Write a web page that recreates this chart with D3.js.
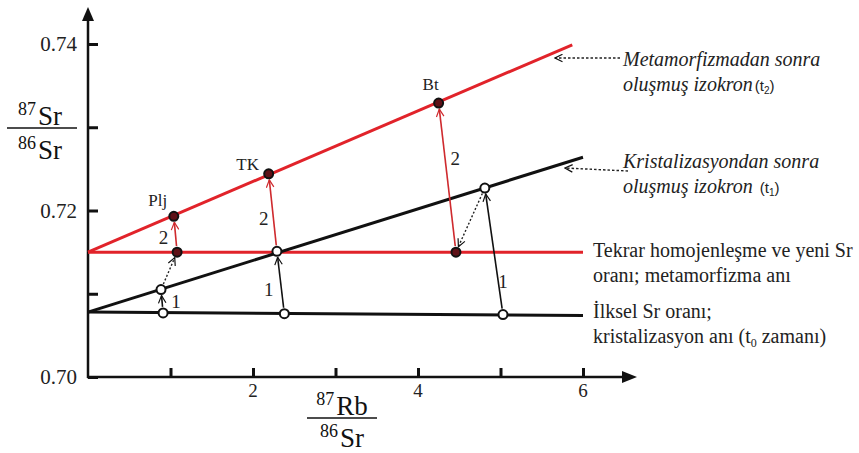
<!DOCTYPE html>
<html><head><meta charset="utf-8">
<script src="https://cdn.jsdelivr.net/npm/d3@7"></script>
</head><body style="margin:0">
<script>
// ---- data ----
const yTicks = [0.70, 0.71, 0.72, 0.73, 0.74];
const yTickLabels = ["0.70", "", "0.72", "", "0.74"];
const xTicks = [1, 2, 3, 4, 5, 6];
const xTickLabels = ["", "2", "", "4", "", "6"];

const initialLine = [[0, 0.7078], [6, 0.7074]];
const isochronT1 = [[0, 0.7078], [6, 0.7264]];
const homogenLine = [[0, 0.7150], [6, 0.7150]];
const isochronT2 = [[0, 0.7150], [5.87, 0.7399]];

const minerals = ["Plj", "TK", "Bt"];
const initialRb = [0.91, 2.38, 5.03];
const initialSr = [0.7077, 0.7076, 0.7075];
const t1Rb = [0.885, 2.29, 4.81];
const t1Sr = [0.7105, 0.7151, 0.7227];
const homRb = [1.08, 2.29, 4.46];
const homSr = [0.7150, 0.7151, 0.7150];
const t2Rb = [1.04, 2.19, 4.25];
const t2Sr = [0.7193, 0.7244, 0.7329];
const stage1Labels = ["1", "1", "1"];
const stage2Labels = ["2", "2", "2"];

const annT2 = ["Metamorfizmadan sonra", "oluşmuş izokron"];
const annT1 = ["Kristalizasyondan sonra", "oluşmuş izokron "];
const annHom = ["Tekrar homojenleşme ve yeni Sr", "oranı; metamorfizma anı"];
const annInit = ["İlksel Sr oranı;", "kristalizasyon anı (t"];

// ---- drawing ----
const RED = "#e1232a", RED2 = "#cf2a2e", DARK = "#5e1016";
const SERIF = '"Liberation Serif"', SANS = '"Liberation Sans"';
const svg = d3.select("body").append("svg").attr("width", 859).attr("height", 453);
const x = d3.scaleLinear().domain([0, 6]).range([88, 583]);
const y = d3.scaleLinear().domain([0.70, 0.74]).range([377, 44]);

function label(px, py, size, str, o = {}) {
  const t = svg.append("text").attr("x", px).attr("y", py)
    .style("font-family", o.family || SERIF).style("font-size", size + "px");
  if (o.italic) t.style("font-style", "italic");
  if (o.anchor) t.attr("text-anchor", o.anchor);
  if (o.dy) t.attr("dy", o.dy);
  t.attr("fill", o.fill || "#222");
  if (str != null) t.text(str);
  return t;
}
function span(t, size, str, o = {}) {
  const s = t.append("tspan").style("font-size", size + "px").text(str);
  if (o.dy) s.attr("dy", o.dy);
  if (o.dx) s.attr("dx", o.dx);
  if (o.family) s.style("font-family", o.family);
  if (o.normal) s.style("font-style", "normal");
  return s;
}
const FS = 20, FSI = 20, FT = 20;

const defs = svg.append("defs");
function vMarker(id, color) {
  defs.append("marker").attr("id", id).attr("viewBox", "0 -6 12 12")
    .attr("refX", 11).attr("refY", 0).attr("markerUnits", "userSpaceOnUse")
    .attr("markerWidth", 9).attr("markerHeight", 9).attr("orient", "auto")
    .append("path").attr("d", "M1,-5L11,0L1,5").attr("fill", "none")
    .attr("stroke", color).attr("stroke-width", 1.6);
}
vMarker("vb", "#111"); vMarker("vr", RED2);

// axes
const yAx = svg.append("g").attr("transform", "translate(88,0)")
  .call(d3.axisRight(y).tickValues(yTicks).tickSize(10).tickFormat(""));
const xAx = svg.append("g").attr("transform", "translate(0,377)")
  .call(d3.axisTop(x).tickValues(xTicks).tickSize(9).tickFormat(""));
[yAx, xAx].forEach(g => {
  g.select(".domain").remove();
  g.selectAll(".tick line").attr("stroke", "#111").attr("stroke-width", 3);
});
svg.append("line").attr("x1", 88).attr("y1", 378).attr("x2", 88).attr("y2", 18)
  .attr("stroke", "#111").attr("stroke-width", 2.5);
svg.append("line").attr("x1", 87).attr("y1", 377).attr("x2", 626).attr("y2", 377)
  .attr("stroke", "#111").attr("stroke-width", 2.5);
svg.append("path").attr("d", "M88,7L94,21L82,21Z").attr("fill", "#111");
svg.append("path").attr("d", "M637,377L622,371L622,383Z").attr("fill", "#111");

yTicks.forEach((d, i) => {
  if (yTickLabels[i]) label(77, y(d) + 7, 21, yTickLabels[i], { anchor: "end" });
});
xTicks.forEach((d, i) => {
  if (xTickLabels[i]) label(x(d), 397, 19, xTickLabels[i], { anchor: "middle" });
});

// axis titles (fractions)
function fraction(cx, lineY, x0, x1, top, bottom, botY) {
  svg.append("line").attr("x1", x0).attr("x2", x1).attr("y1", lineY).attr("y2", lineY)
    .attr("stroke", "#111").attr("stroke-width", 1.6);
  [[top, lineY - 3], [bottom, botY]].forEach(([t, by]) => {
    const tx = label(cx, by, 20, null, { anchor: "middle", fill: "#111" });
    span(tx, 18, t[0], { dy: -10 });
    span(tx, 27, t[1], { dy: 10, dx: 2 });
  });
}
fraction(40, 128, 7, 77, ["87", "Sr"], ["86", "Sr"], 159);
fraction(342, 418, 307, 377, ["87", "Rb"], ["86", "Sr"], 447);

// lines
const line = d3.line().x(d => x(d[0])).y(d => y(d[1]));
svg.append("path").attr("d", line(initialLine)).attr("stroke", "#111").attr("stroke-width", 3).attr("fill", "none");
svg.append("path").attr("d", line(homogenLine)).attr("stroke", RED).attr("stroke-width", 3).attr("fill", "none");
svg.append("path").attr("d", line(isochronT1)).attr("stroke", "#111").attr("stroke-width", 3).attr("fill", "none");
svg.append("path").attr("d", line(isochronT2)).attr("stroke", RED).attr("stroke-width", 3).attr("fill", "none");

// arrows
const R = 4.5;
function arrow(x1, y1, x2, y2, color, marker, dash, w) {
  const dx = x2 - x1, dy = y2 - y1, L = Math.hypot(dx, dy);
  const s = R + 1.5;
  svg.append("line")
    .attr("x1", x1 + dx / L * s).attr("y1", y1 + dy / L * s)
    .attr("x2", x2 - dx / L * s).attr("y2", y2 - dy / L * s)
    .attr("stroke", color).attr("stroke-width", w)
    .attr("stroke-dasharray", dash).attr("marker-end", `url(#${marker})`);
}
minerals.forEach((m, i) => {
  arrow(x(initialRb[i]), y(initialSr[i]), x(t1Rb[i]), y(t1Sr[i]), "#111", "vb", null, 1.6);
  arrow(x(homRb[i]), y(homSr[i]), x(t2Rb[i]), y(t2Sr[i]), RED2, "vr", null, 1.6);
  if (Math.abs(t1Rb[i] - homRb[i]) > 0.05)
    arrow(x(t1Rb[i]), y(t1Sr[i]), x(homRb[i]), y(homSr[i]), "#222", "vb", "2,2", 1.4);
});

// points
const open = (px, py) => svg.append("circle").attr("cx", px).attr("cy", py).attr("r", R)
  .attr("fill", "#fff").attr("stroke", "#111").attr("stroke-width", 2);
const filled = (px, py) => svg.append("circle").attr("cx", px).attr("cy", py).attr("r", R)
  .attr("fill", DARK).attr("stroke", "#111").attr("stroke-width", 2);
minerals.forEach((m, i) => {
  open(x(initialRb[i]), y(initialSr[i]));
  open(x(t1Rb[i]), y(t1Sr[i]));
  if (Math.abs(t1Rb[i] - homRb[i]) > 0.05) filled(x(homRb[i]), y(homSr[i]));
  filled(x(t2Rb[i]), y(t2Sr[i]));
});

// labels
const off1 = [[14, 0], [-12, 6], [9, 30]];
const off2 = [[-12, 3], [-9, 5], [8, -20]];
const offM = [[-16, -16], [-21, -10], [-8, -19]];
minerals.forEach((m, i) => {
  const mx1 = (x(initialRb[i]) + x(t1Rb[i])) / 2, my1 = (y(initialSr[i]) + y(t1Sr[i])) / 2;
  const mx2 = (x(homRb[i]) + x(t2Rb[i])) / 2, my2 = (y(homSr[i]) + y(t2Sr[i])) / 2;
  label(mx1 + off1[i][0], my1 + off1[i][1] + 7, 19, stage1Labels[i], { anchor: "middle" });
  label(mx2 + off2[i][0], my2 + off2[i][1] + 7, 19, stage2Labels[i], { anchor: "middle" });
  label(x(t2Rb[i]) + offM[i][0], y(t2Sr[i]) + offM[i][1] + 6, 17, m, { anchor: "middle" });
});

// right annotations
function ann(lines, x0, y0, italic, sub) {
  lines.forEach((t, k) => {
    const tx = label(x0, y0 + k * 25, italic ? FSI : FS, t, { italic });
    if (sub && k === 1) sub(tx);
  });
}
const subT = n => tx => {
  span(tx, 15, "(t", { normal: true, family: SANS, dx: 2 });
  span(tx, 10, n, { normal: true, family: SANS, dy: 3 });
  span(tx, 15, ")", { normal: true, family: SANS, dy: -3 });
};
ann(annT2, 623, 66, true, subT("2"));
ann(annT1, 623, 168, true, subT("1"));
ann(annHom, 593, 257, false, null);
ann(annInit, 593, 318, false, tx => {
  span(tx, 12, "0", { dy: 4 });
  span(tx, FS, " zamanı)", { dy: -4 });
});

// pointer arrows
[[620, 58, 555, 58], [628, 171, 565, 168]].forEach(([a, b, c, d]) => {
  svg.append("line").attr("x1", a).attr("y1", b).attr("x2", c).attr("y2", d)
    .attr("stroke", "#222").attr("stroke-width", 1.4).attr("stroke-dasharray", "2.5,2")
    .attr("marker-end", "url(#vb)");
});
</script>
</body></html>
